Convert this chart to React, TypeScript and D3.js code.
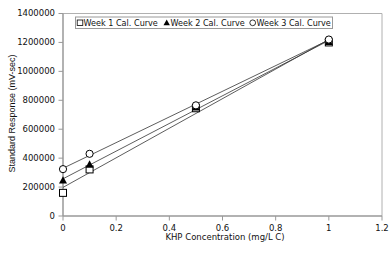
import React from "react";
import * as d3 from "d3";

const concentrations = [0, 0.1, 0.5, 1];
const week1 = [160000, 322000, 745000, 1200000];
const week2 = [246000, 356000, 752000, 1205000];
const week3 = [324000, 430000, 765000, 1220000];
const seriesNames = ["Week 1 Cal. Curve", "Week 2 Cal. Curve", "Week 3 Cal. Curve"];
const xTicks = [0, 0.2, 0.4, 0.6, 0.8, 1, 1.2];
const yTicks = [0, 200000, 400000, 600000, 800000, 1000000, 1200000, 1400000];

function regress(xs: number[], ys: number[]) {
  const mx = d3.mean(xs)!;
  const my = d3.mean(ys)!;
  let sxx = 0, sxy = 0;
  xs.forEach((x, i) => { sxx += (x - mx) ** 2; sxy += (x - mx) * (ys[i] - my); });
  const slope = sxy / sxx;
  return { slope, intercept: my - slope * mx };
}

function Marker({ type, cx, cy }: { type: number; cx: number; cy: number }) {
  if (type === 0) return <rect x={cx - 3.5} y={cy - 3.5} width={7} height={7} fill="#fff" stroke="#000" strokeWidth={1} />;
  if (type === 1) return <path d={`M${cx},${cy - 4.2}L${cx + 4},${cy + 3.2}L${cx - 4},${cy + 3.2}Z`} fill="#000" />;
  return <circle cx={cx} cy={cy} r={3.6} fill="#fff" stroke="#000" strokeWidth={1} />;
}

export default function App() {
  const W = 392, H = 253;
  const x = d3.scaleLinear().domain([0, 1.2]).range([63, 382]);
  const y = d3.scaleLinear().domain([0, 1400000]).range([216, 13.5]);
  const all = [week1, week2, week3];
  const font = "'DejaVu Sans', Verdana, sans-serif";
  const fs = 8.5;
  const lfs = 8.1;
  const legendItems = [
    { mx: 80, tx: 83.5 },
    { mx: 166.7, tx: 170.5 },
    { mx: 252.7, tx: 256.5 },
  ];
  return (
    <svg width={W} height={H} style={{ position: "absolute", left: 0, top: 0 }}>
      <rect width={W} height={H} fill="#fff" />
      {/* frame */}
      <line x1={63} x2={382} y1={13.5} y2={13.5} stroke="#b0b0b0" strokeWidth={1} />
      <line x1={382} x2={382} y1={13.5} y2={216} stroke="#b0b0b0" strokeWidth={1} />
      {/* axes */}
      <line x1={63} x2={63} y1={13.5} y2={216} stroke="#999" strokeWidth={1.5} />
      <line x1={63} x2={382} y1={216} y2={216} stroke="#999" strokeWidth={1.5} />
      {yTicks.map((t) => (
        <g key={t}>
          <line x1={58.5} x2={63} y1={y(t)} y2={y(t)} stroke="#999" strokeWidth={1} />
          <text x={55} y={y(t)} dy="0.35em" textAnchor="end" fontFamily={font} fontSize={fs} fill="#111">{t}</text>
        </g>
      ))}
      {xTicks.map((t) => (
        <g key={t}>
          <line x1={x(t)} x2={x(t)} y1={216} y2={220.5} stroke="#999" strokeWidth={1} />
          <text x={x(t)} y={228} dy="0.35em" textAnchor="middle" fontFamily={font} fontSize={fs} fill="#111">{String(t)}</text>
        </g>
      ))}
      <text x={225} y={240} textAnchor="middle" fontFamily={font} fontSize={fs} fill="#111">KHP Concentration (mg/L C)</text>
      <text transform={`translate(15,113.5) rotate(-90)`} textAnchor="middle" fontFamily="'Liberation Sans', Arial, sans-serif" fontSize={9} fill="#111">Standard Response (mV-sec)</text>
      {/* trendlines */}
      {all.map((ys, i) => {
        const r = regress(concentrations, ys);
        return (
          <line key={i} x1={x(0)} y1={y(r.intercept)} x2={x(1)} y2={y(r.intercept + r.slope)} stroke="#333" strokeWidth={0.8} />
        );
      })}
      {/* markers */}
      {all.map((ys, i) => (
        <g key={i}>
          {ys.map((v, j) => <Marker key={j} type={i} cx={x(concentrations[j])} cy={y(v)} />)}
        </g>
      ))}
      {/* legend */}
      <rect x={75.5} y={17} width={257} height={11.5} fill="#fff" stroke="#999" strokeWidth={1} />
      {seriesNames.map((n, i) => (
        <g key={n}>
          <g transform={`translate(${legendItems[i].mx},22.8) scale(0.8) translate(${-legendItems[i].mx},-22.8)`}>
            <Marker type={i} cx={legendItems[i].mx} cy={22.8} />
          </g>
          <text x={legendItems[i].tx} y={22.8} dy="0.35em" fontFamily={font} fontSize={lfs} fill="#111">{n}</text>
        </g>
      ))}
    </svg>
  );
}
